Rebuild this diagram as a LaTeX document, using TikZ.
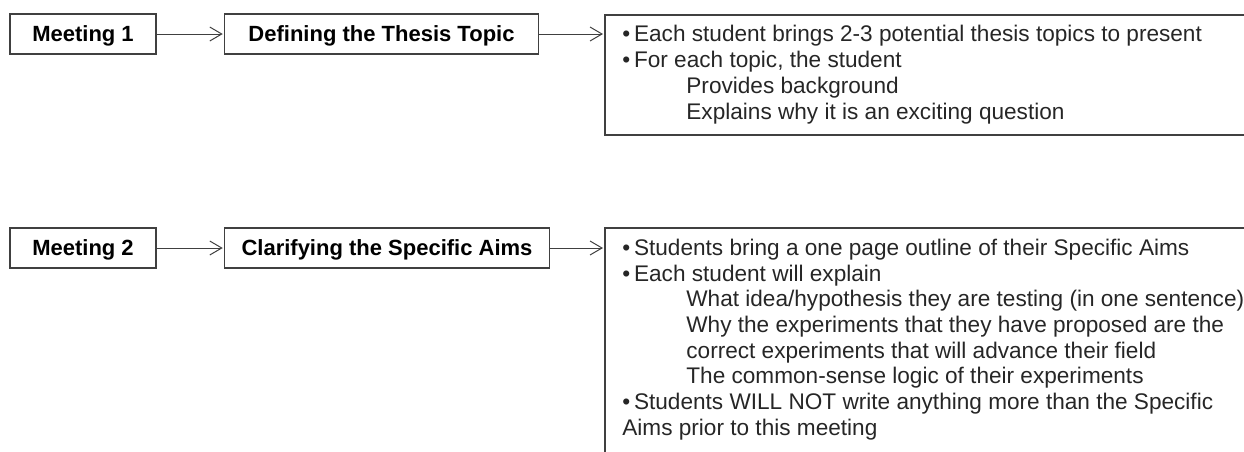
\documentclass[tikz,border=0pt]{standalone}
\usepackage{fontspec}
\setmainfont{Liberation Sans}
\usetikzlibrary{positioning,arrows.meta}

\begin{document}
\begin{tikzpicture}[meet/.style={rectangle,draw=black!75,line width=0.75pt,minimum width=73pt,minimum height=20pt,text depth=0pt,font=\fontsize{11pt}{13pt}\selectfont\bfseries},
        stage/.style={meet,minimum width=157pt},
        notes/.style={rectangle,draw=black!75,line width=0.75pt,minimum width=340pt,anchor=north west},
        txt/.style={align=left,inner sep=0pt,font=\fontsize{11.3pt}{12.85pt}\selectfont,text=black!85},
        arr/.style={-{Straight Barb[length=6pt,width=7pt]},draw=black!75,line width=0.5pt,shorten >=0.5pt}]
        \useasboundingbox (0,0) rectangle (622pt,-225.5pt);
        \clip (0,0) rectangle (622pt,-225.5pt);

        % first meeting
        \node[meet] (m1) at (41.5pt,-17pt) {Meeting 1};
        \node[stage,right=33.5pt of m1] (s1) {Defining the Thesis Topic};
        \node[notes,minimum height=60pt] (n1) at (302pt,-7pt) {};
        \node[txt,below right=5.6pt and 9pt of n1.north west] (t1) {%
            •\,Each student brings 2-3 potential thesis topics to present\\
            •\,For each topic, the student\\
            \hspace*{32pt}Provides background\\
            \hspace*{32pt}Explains why it is an exciting question};
        \draw [arr] (m1) -- (s1);
        \draw [arr] (s1.east) -- (s1.east -| n1.west);

        % second meeting
        \node[meet] (m2) at (41.5pt,-124pt) {Meeting 2};
        \node[stage,minimum width=162.5pt,right=33.5pt of m2] (s2) {Clarifying the Specific Aims};
        \node[notes,minimum height=130pt] (n2) at (302pt,-113.5pt) {};
        \node[txt,below right=5.8pt and 9pt of n2.north west] (t2) {%
            •\,Students bring a one page outline of their Specific Aims\\
            •\,Each student will explain\\
            \hspace*{32pt}What idea/hypothesis they are testing (in one sentence)\\
            \hspace*{32pt}Why the experiments that they have proposed are the\\
            \hspace*{32pt}correct experiments that will advance their field\\
            \hspace*{32pt}The common-sense logic of their experiments\\
            •\,Students WILL NOT write anything more than the Specific\\
            Aims prior to this meeting};
        \draw [arr] (m2) -- (s2);
        \draw [arr] (s2.east) -- (s2.east -| n2.west);
    \end{tikzpicture}
\end{document}
